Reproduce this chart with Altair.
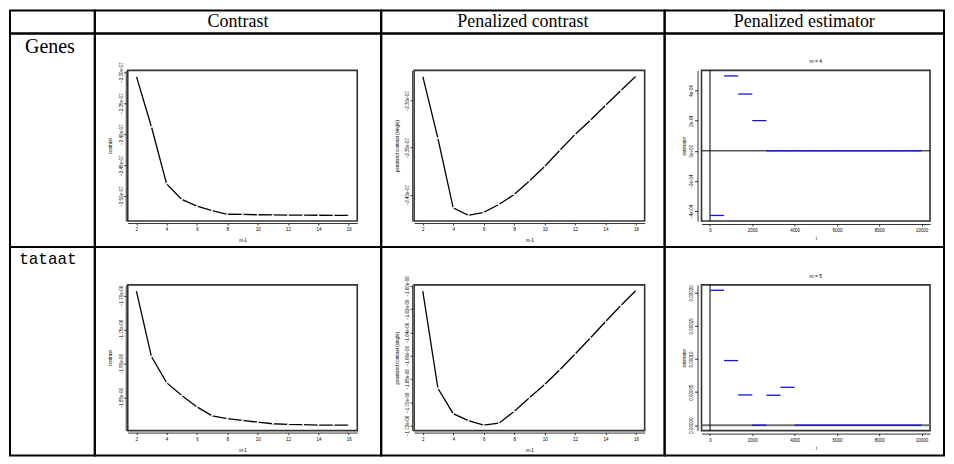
import altair as alt
import pandas as pd

# ---------------- data ----------------
M_VALUES = list(range(2, 17))

CONTRAST_GENES = [-2.306e-07, -2.388e-07, -2.480e-07, -2.505e-07, -2.516e-07, -2.523e-07,
                  -2.529e-07, -2.5293e-07, -2.5298e-07, -2.5300e-07, -2.5303e-07, -2.5304e-07,
                  -2.5306e-07, -2.5308e-07, -2.5309e-07]
PEN_GENES = [-2.2736e-07, -2.3401e-07, -2.4141e-07, -2.4222e-07, -2.4190e-07, -2.4106e-07,
             -2.4000e-07, -2.3856e-07, -2.3701e-07, -2.3528e-07, -2.3359e-07, -2.3208e-07,
             -2.3049e-07, -2.2891e-07, -2.2736e-07]
CONTRAST_TATAAT = [-1.6925e-06, -1.7897e-06, -1.8280e-06, -1.8467e-06, -1.8636e-06, -1.8766e-06,
                   -1.8808e-06, -1.8832e-06, -1.8860e-06, -1.8883e-06, -1.8893e-06, -1.8897e-06,
                   -1.8902e-06, -1.8902e-06, -1.8904e-06]
PEN_TATAAT = [-1.6038e-06, -1.6880e-06, -1.7098e-06, -1.7158e-06, -1.7197e-06, -1.7180e-06,
              -1.7079e-06, -1.6962e-06, -1.6847e-06, -1.6721e-06, -1.6585e-06, -1.6448e-06,
              -1.6306e-06, -1.6169e-06, -1.6038e-06]

SEG_START = [0, 667, 1333, 2000, 2667, 3333, 4000, 4667, 5333, 6000, 6667, 7333, 8000, 8667, 9333]
SEG_END = [667, 1333, 2000, 2667, 3333, 4000, 4667, 5333, 6000, 6667, 7333, 8000, 8667, 9333, 10000]
EST_GENES = [-4.28e-4, 4.96e-4, 3.76e-4, 2.0e-4, 0.0, 0.0, 0.0, 0.0, 0.0, 0.0, 0.0, 0.0, 0.0, 0.0, 0.0]
EST_TATAAT = [2.038e-4, 9.76e-5, 4.57e-5, 0.0, 4.52e-5, 5.72e-5, 0.0, 0.0, 0.0, 0.0, 0.0, 0.0, 0.0, 0.0, 0.0]

X_TICKS_M = [2, 4, 6, 8, 10, 12, 14, 16]
X_TICKS_T = [0, 2000, 4000, 6000, 8000, 10000]
Y_TICKS_CG = [-2.30e-07, -2.35e-07, -2.40e-07, -2.45e-07, -2.50e-07]
Y_TICKS_PG = [-2.30e-07, -2.35e-07, -2.40e-07]
Y_TICKS_CT = [-1.70e-06, -1.75e-06, -1.80e-06, -1.85e-06]
Y_TICKS_PT = [-1.60e-06, -1.62e-06, -1.64e-06, -1.66e-06, -1.68e-06, -1.70e-06, -1.72e-06]
Y_TICKS_EG = [-4e-4, -2e-4, 0.0, 2e-4, 4e-4]
Y_TICKS_ET = [0.0, 5e-5, 1e-4, 1.5e-4, 2e-4]

COL_TITLES = ["", "Contrast", "Penalized contrast", "Penalized estimator"]
ROW_LABELS = ["Genes", "tataat"]
EST_TITLES = ["m = 4", "m = 5"]

# ---------------- layout ----------------
COL_W = [85, 287, 284, 280]
ROW_H = [23, 214, 209]
FRAME_X = [None, (33, 263), (33, 264), (37, 266)]
FRAME_Y = [None, (37, 188), (38, 184)]

SANS = "Liberation Sans"
SERIF = "Liberation Serif"
MONO = "Liberation Mono"
ONE = pd.DataFrame({"k": [0]})

EXP_EXPR = "replace(format(datum.value, '.2e'), 'e-', 'e-0')"
EST1_EXPR = "datum.value == 0 ? '0e+00' : format(datum.value * 10000, 'd') + 'e-04'"
EST2_EXPR = "format(datum.value, '.5f')"


def ext(vals):
    lo, hi = min(vals), max(vals)
    d = (hi - lo) * 0.04
    return [lo - d, hi + d]


def axis_common():
    return dict(grid=False, labelFont=SANS, titleFont=SANS, labelFontSize=4.5,
                titleFontSize=4.5, titleFontWeight="normal", labelColor="black",
                titleColor="black", domainColor="black", tickColor="black",
                domainWidth=0.8, tickWidth=0.8, labelOverlap=False, labelFlush=False)


def scales_axes(W, H, fr_x, fr_y, xdom, ydom, xticks, yticks, yexpr, xtitle, ytitle, est):
    fx0, fx1 = fr_x
    fy0, fy1 = fr_y
    xs = alt.Scale(domain=xdom, range=[fx0, fx1], nice=False, zero=False)
    ys = alt.Scale(domain=ydom, range=[fy1, fy0], nice=False, zero=False)
    if est:
        xgap, ygap, ytick, ylpad, ytpad, xtpad = 3, 4, 3, 1.5, 1.5, 3.5
    else:
        xgap, ygap, ytick, ylpad, ytpad, xtpad = 2, 2, 2, 0.5, 5.5, 7
    xa = alt.Axis(values=xticks, format="d", title=xtitle, offset=(fy1 + xgap) - H,
                  tickSize=2, labelPadding=1.5, titlePadding=xtpad, **axis_common())
    ya = alt.Axis(values=yticks, labelExpr=yexpr, title=ytitle, offset=-(fx0 - ygap),
                  tickSize=ytick, labelPadding=ylpad, titlePadding=ytpad,
                  labelAngle=270, labelAlign="center", labelBaseline="bottom",
                  **axis_common())
    return xs, ys, xa, ya


def frame_layer(xdom, ydom, xs, ys, xa, ya):
    return alt.Chart(ONE).mark_rect(filled=False, color="#333333", strokeWidth=1.6).encode(
        x=alt.XDatum(xdom[0], type="quantitative", scale=xs, axis=xa),
        x2=alt.X2Datum(xdom[1]),
        y=alt.YDatum(ydom[0], type="quantitative", scale=ys, axis=ya),
        y2=alt.Y2Datum(ydom[1]),
    )


def curve_cell(values, yticks, ytitle, row, col):
    W, H = COL_W[col], ROW_H[row]
    df = pd.DataFrame({"m": M_VALUES, "v": values})
    xdom = ext(M_VALUES)
    ydom = ext(values)
    xs, ys, xa, ya = scales_axes(W, H, FRAME_X[col], FRAME_Y[row], xdom, ydom,
                                 X_TICKS_M, yticks, EXP_EXPR, "m-1", ytitle, False)
    enc = dict(x=alt.X("m:Q", scale=xs, axis=xa), y=alt.Y("v:Q", scale=ys, axis=ya))
    line = alt.Chart(df).mark_line(color="black", strokeWidth=1.3).encode(**enc)
    # small white gaps at each observation, as R's type = "b" leaves them
    gaps = alt.Chart(df).mark_point(filled=True, color="white", size=4, opacity=1).encode(**enc)
    return alt.layer(frame_layer(xdom, ydom, xs, ys, xa, ya), line, gaps).properties(
        width=W, height=H)


def est_cell(values, yticks, yexpr, title, row, hcolor, hwidth):
    col = 3
    W, H = COL_W[col], ROW_H[row]
    df = pd.DataFrame({"s": SEG_START, "e": SEG_END, "v": values})
    xdom = ext(SEG_START + SEG_END)
    ydom = ext(values)
    xs, ys, xa, ya = scales_axes(W, H, FRAME_X[col], FRAME_Y[row], xdom, ydom,
                                 X_TICKS_T, yticks, yexpr, "t", "estimator", True)
    hline = alt.Chart(ONE).mark_rule(color=hcolor, strokeWidth=hwidth).encode(
        x=alt.XDatum(xdom[0], type="quantitative", scale=xs, axis=xa),
        x2=alt.X2Datum(xdom[1]),
        y=alt.YDatum(0, type="quantitative", scale=ys, axis=ya),
    )
    vline = alt.Chart(ONE).mark_rule(color="black", strokeWidth=1).encode(
        x=alt.XDatum(0, type="quantitative", scale=xs, axis=xa),
        y=alt.YDatum(ydom[0], type="quantitative", scale=ys, axis=ya),
        y2=alt.Y2Datum(ydom[1]),
    )
    segs = alt.Chart(df).mark_rule(color="#1010f0", strokeWidth=1.3).encode(
        x=alt.X("s:Q", scale=xs, axis=xa),
        x2="e:Q",
        y=alt.Y("v:Q", scale=ys, axis=ya),
    )
    fx0, fx1 = FRAME_X[col]
    ttl = alt.Chart(ONE).mark_text(text=title, font=SANS, fontSize=5, color="black",
                                   baseline="middle").encode(
        x=alt.value((fx0 + fx1) / 2), y=alt.value(FRAME_Y[row][0] - 9))
    return alt.layer(frame_layer(xdom, ydom, xs, ys, xa, ya), hline, vline, segs, ttl).properties(
        width=W, height=H)


def text_cell(txt, W, H, font, size, y, baseline, x=None):
    return alt.Chart(pd.DataFrame({"t": [txt]})).mark_text(
        font=font, fontSize=size, color="black", baseline=baseline).encode(
        x=alt.value(W / 2 if x is None else x), y=alt.value(y), text="t:N").properties(
        width=W, height=H)


cells = [text_cell(COL_TITLES[i], COL_W[i], ROW_H[0], SERIF, 18, 12, "middle") for i in range(4)]
cells += [
    text_cell(ROW_LABELS[0], COL_W[0], ROW_H[1], SERIF, 20, 20, "alphabetic", x=40),
    curve_cell(CONTRAST_GENES, Y_TICKS_CG, "contrast", 1, 1),
    curve_cell(PEN_GENES, Y_TICKS_PG, "penalized contrast (single)", 1, 2),
    est_cell(EST_GENES, Y_TICKS_EG, EST1_EXPR, EST_TITLES[0], 1, "black", 1),
    text_cell(ROW_LABELS[1], COL_W[0], ROW_H[2], MONO, 16, 17, "alphabetic", x=38),
    curve_cell(CONTRAST_TATAAT, Y_TICKS_CT, "contrast", 2, 1),
    curve_cell(PEN_TATAAT, Y_TICKS_PT, "penalized contrast (single)", 2, 2),
    est_cell(EST_TATAAT, Y_TICKS_ET, EST2_EXPR, EST_TITLES[1], 2, "#707070", 2),
]

chart = alt.concat(*cells, columns=4, spacing=0, bounds="flush").properties(
    padding=1, background="white"
).configure_view(stroke="black", strokeWidth=2)

chart.save("out.html", embed_options={"renderer": "svg", "actions": False})
